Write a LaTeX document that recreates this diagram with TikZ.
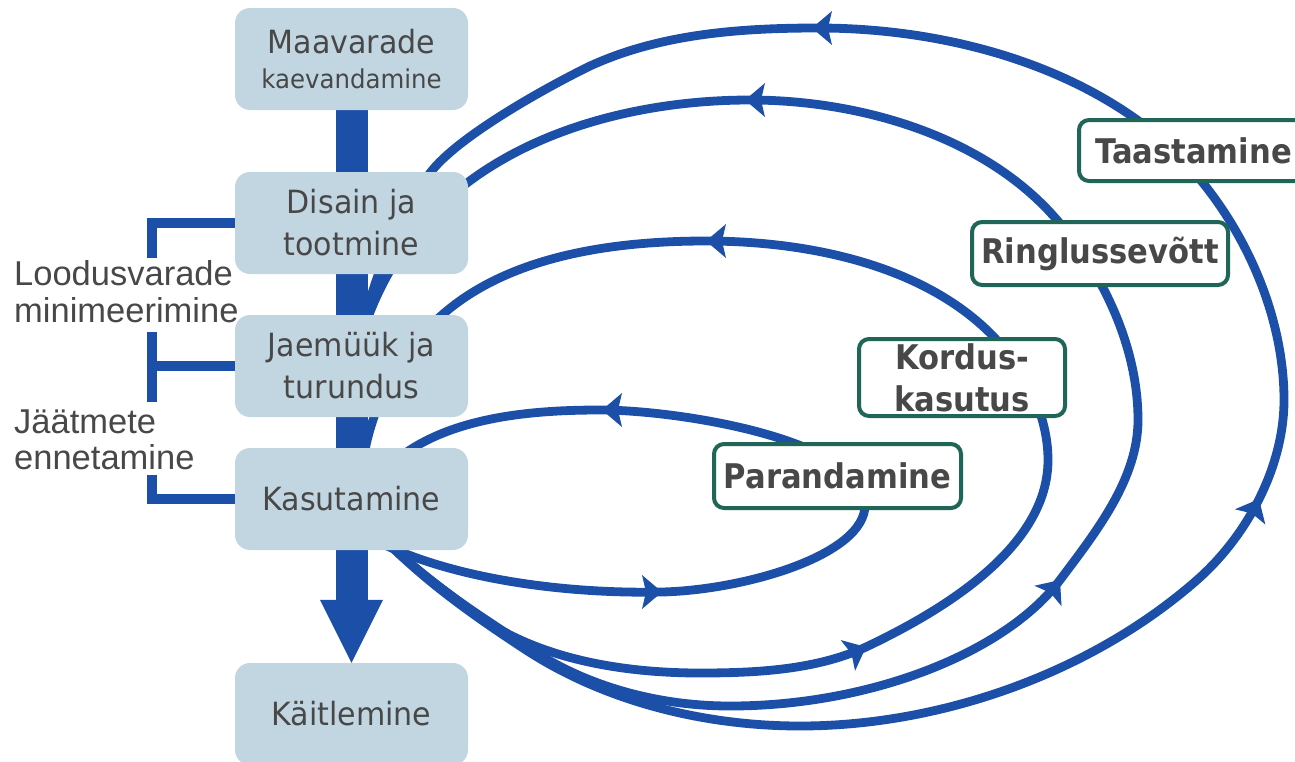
\documentclass[tikz,border=0pt]{standalone}
\usepackage{fontspec}
\setmainfont{Liberation Sans}
\newfontfamily\boxfont[FakeStretch=0.94]{DejaVu Sans}
\newfontfamily\labfont[FakeStretch=0.9]{DejaVu Sans}
\definecolor{lp}{RGB}{27,79,168}
\definecolor{boxfill}{RGB}{194,214,226}
\definecolor{txt}{RGB}{72,72,72}
\definecolor{grn}{RGB}{31,102,88}
\pgfdeclarelayer{bg}
\pgfsetlayers{bg,main}
\tikzset{
 lbox/.style={fill=boxfill, rounded corners=15pt, minimum width=233pt, minimum height=102pt, inner sep=0pt, align=center, text=txt, font=\boxfont\fontsize{32}{42}\selectfont},
 gbox/.style={draw=grn, line width=4pt, fill=white, rounded corners=10pt, inner sep=0pt, align=center, text=txt, font=\labfont\bfseries\fontsize{34}{42}\selectfont},
 loopline/.style={draw=lp, line width=8.8pt},
 brk/.style={draw=lp, line width=10pt},
 side/.style={text=txt, align=left, inner sep=0pt, anchor=west},
}
\newcommand{\ahead}[2]{\fill[lp, shift={#1}, rotate=#2] (0,0) -- (-20,17) -- (-16,0) -- (-20,-17) -- cycle;}
\begin{document}
\begin{tikzpicture}[x=1pt,y=-1pt]
\useasboundingbox (0,0) rectangle (1295,761);
% left column
\node[lbox, font=\boxfont\fontsize{32}{35}\selectfont] (maa) at (351.5,59) {Maavarade\\{\fontsize{26}{35}\selectfont kaevandamine}};
\node[lbox] (dis) at (351.5,223) {Disain ja\\tootmine};
\node[lbox] (jae) at (351.5,366) {Jaemüük ja\\turundus};
\node[lbox] (kas) at (351.5,499) {Kasutamine};
\node[lbox] (kai) at (351.5,714) {Käitlemine};
% labels
\node[gbox, minimum width=229pt, minimum height=61pt] (taa) at (1193.5,150.5) {Taastamine};
\node[gbox, minimum width=256pt, minimum height=63pt] (rin) at (1100,253.5) {Ringlussevõtt};
\node[gbox, minimum width=206pt, minimum height=77pt] (kor) at (962,377.5) {Kordus-\\kasutus};
\node[gbox, minimum width=247pt, minimum height=64pt] (par) at (837.5,476) {Parandamine};
% side texts
\node[side, font=\fontsize{34.5}{37}\selectfont] (lmin) at (14,292) {Loodusvarade\\minimeerimine};
\node[side, font=\fontsize{34.5}{36}\selectfont] (jaat) at (14,440) {Jäätmete\\ennetamine};
\begin{pgfonlayer}{bg}
% main flow bar
\fill[lp] ([xshift=-16pt]maa.south) rectangle ([xshift=16pt,yshift=63pt]kai.north);
\fill[lp] ([xshift=-31.5pt,yshift=63pt]kai.north) -- ([xshift=31.5pt,yshift=63pt]kai.north) -- (kai.north) -- cycle;
% brackets
\draw[brk] (dis.west) -| (152,258);
\draw[brk] (jae.west) -- (152,366);
\draw[brk] (152,332) -- (152,402);
\draw[brk] (kas.west) -| (152,475);
% loop 4 (Taastamine)
\draw[loopline] (360,335) .. controls (375,278) and (395,220) .. (430,173)
 .. controls (457,137) and (545,88) .. (590,66)
 .. controls (660,34) and (739,28) .. (818,28)
 .. controls (927,28) and (1044,55) .. (1133,117)
 .. controls (1221,178) and (1284,293) .. (1284,400)
 .. controls (1284,467) and (1247,536) .. (1197,580)
 .. controls (1091,673) and (941,726) .. (800,726)
 .. controls (705,726) and (606,702) .. (526,650)
 .. controls (474,616) and (423,580) .. (380,535);
% loop 3 (Ringlussevott)
\draw[loopline] (362,335) .. controls (380,276) and (417,220) .. (467,183)
 .. controls (545,124) and (652,100) .. (750,100)
 .. controls (860,100) and (985,136) .. (1057,220)
 .. controls (1104,275) and (1138,348) .. (1138,420)
 .. controls (1138,479) and (1096,532) .. (1060,580)
 .. controls (1005,653) and (870,706) .. (730,706)
 .. controls (661,706) and (590,688) .. (532,650)
 .. controls (480,616) and (423,580) .. (380,535);
% loop 2 (Korduskasutus)
\draw[loopline] (362,470) .. controls (368,412) and (398,353) .. (442,315)
 .. controls (510,255) and (615,241) .. (706,241)
 .. controls (806,241) and (922,264) .. (992,335)
 .. controls (1024,368) and (1048,414) .. (1048,460)
 .. controls (1048,547) and (944,610) .. (866,647)
 .. controls (816,670) and (756,673) .. (700,673)
 .. controls (622,673) and (535,659) .. (473,612)
 .. controls (441,588) and (408,564) .. (380,535);
% loop 1 (Parandamine)
\draw[loopline] (385,470) .. controls (437,418) and (526,410) .. (600,410)
 .. controls (680,410) and (865,440) .. (865,505)
 .. controls (865,555) and (745,590) .. (662,592)
 .. controls (568,594) and (460,580) .. (385,545);
% arrowheads
\ahead{(812,28)}{180}
\ahead{(745,100)}{180}
\ahead{(706,241)}{180}
\ahead{(602,410)}{180}
\ahead{(662,592)}{0}
\ahead{(866,647)}{25}
\ahead{(1060,580)}{53}
\ahead{(1259,499)}{63.5}
\end{pgfonlayer}
\end{tikzpicture}
\end{document}
